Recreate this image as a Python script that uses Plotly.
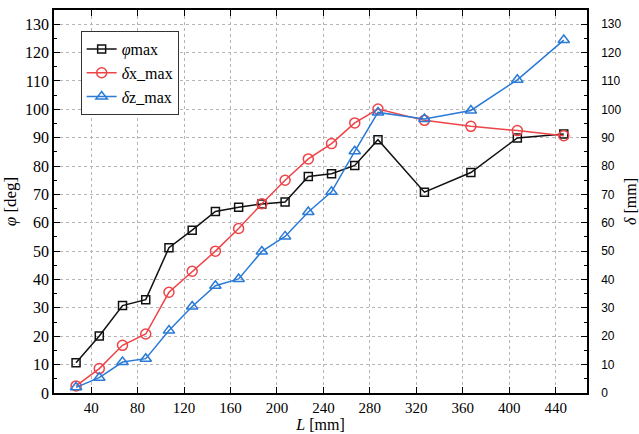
import plotly.graph_objects as go

L = [27, 47, 67, 87, 107, 127, 147, 167, 187, 207, 227, 247, 267, 287, 327, 367, 407, 447]
phi_max = [10.7, 20.1, 30.8, 32.9, 51.2, 57.4, 64.0, 65.5, 66.6, 67.3, 76.3, 77.3, 80.2, 89.3, 70.8, 77.7, 89.9, 91.3]
dx_max = [2.5, 8.6, 16.8, 20.8, 35.5, 42.9, 50.0, 58.0, 66.7, 75.0, 82.5, 87.9, 95.2, 100.1, 96.1, 94.0, 92.5, 90.7]
dz_max = [2.0, 5.4, 10.9, 12.1, 22.0, 30.5, 37.8, 40.2, 49.9, 55.2, 63.8, 70.9, 85.2, 98.9, 96.6, 99.6, 110.4, 124.4]
x_ticks = list(range(40, 441, 40))
y_ticks = list(range(0, 131, 10))

BLACK = "#111111"
RED = "#ee4448"
BLUE = "#2a7ad6"
SERIF = "Liberation Serif"
SANS = "Liberation Sans"

fig = go.Figure()
fig.add_trace(go.Scatter(
    x=L, y=phi_max, name="<i>φ</i>max", mode="lines+markers", legendgroup="a",
    line=dict(color=BLACK, width=1.5),
    marker=dict(symbol="square-open", size=8, color=BLACK, line=dict(width=1.5)),
    yaxis="y"))
fig.add_trace(go.Scatter(
    x=L, y=dx_max, name="<i>δ</i>x_max", mode="lines+markers", legendgroup="b",
    line=dict(color=RED, width=1.5),
    marker=dict(symbol="circle-open", size=10, color=RED, line=dict(width=1.5)),
    yaxis="y2"))
fig.add_trace(go.Scatter(
    x=L, y=dz_max, name="<i>δ</i>z_max", mode="lines+markers", legendgroup="c",
    line=dict(color=BLUE, width=1.5),
    marker=dict(symbol="triangle-up-open", size=10, color=BLUE, line=dict(width=1.5)),
    yaxis="y2"))

grid = dict(showgrid=True, gridcolor="#b5b5b5", gridwidth=1, griddash="3px,3px")

fig.update_layout(
    width=639, height=434,
    margin=dict(l=54, r=52, t=10, b=41, autoexpand=False),
    paper_bgcolor="white", plot_bgcolor="white",
    showlegend=True,
    legend=dict(x=0.05, y=0.945, xanchor="left", yanchor="top",
                bgcolor="white", bordercolor="#333333", borderwidth=1,
                font=dict(family=SERIF, size=16, color="black"),
                tracegroupgap=0, itemwidth=30),
    xaxis=dict(range=[8, 467], tickvals=x_ticks, ticks="inside", ticklen=6,
               tickcolor="black", showline=True, linecolor="black", linewidth=1.5,
               mirror="ticks", zeroline=False, automargin=False,
               tickfont=dict(family=SERIF, size=15, color="black"),
               title=dict(text="<i>L</i> [mm]", font=dict(family=SERIF, size=16, color="black"),
                          standoff=2),
               **grid),
    yaxis=dict(range=[0, 135], tickvals=y_ticks, ticks="inside", ticklen=6,
               tickcolor="black", showline=True, linecolor="black", linewidth=1.5,
               zeroline=False, automargin=False,
               minor=dict(dtick=5, tick0=0, ticks="inside", ticklen=3, tickcolor="black", showgrid=False),
               tickfont=dict(family=SERIF, size=16, color="black"),
               title=dict(text="<i>φ</i> [deg]", font=dict(family=SERIF, size=17, color="black"),
                          standoff=4),
               **grid),
    yaxis2=dict(range=[0, 135], tickvals=y_ticks, ticks="inside", ticklen=6,
                tickcolor="black", showline=True, linecolor="black", linewidth=1.5,
                overlaying="y", side="right", zeroline=False, showgrid=False, automargin=False,
                ticklabelstandoff=10,
                minor=dict(dtick=5, tick0=0, ticks="inside", ticklen=3, tickcolor="black"),
                tickfont=dict(family=SANS, size=12, color="black"),
                title=dict(text="<i>δ</i> [mm]", font=dict(family=SERIF, size=16, color="black"),
                           standoff=4)),
)

fig.write_html("out.html", config={"displayModeBar": False},
               post_script="document.body.style.margin='0';document.body.style.overflow='hidden';")
